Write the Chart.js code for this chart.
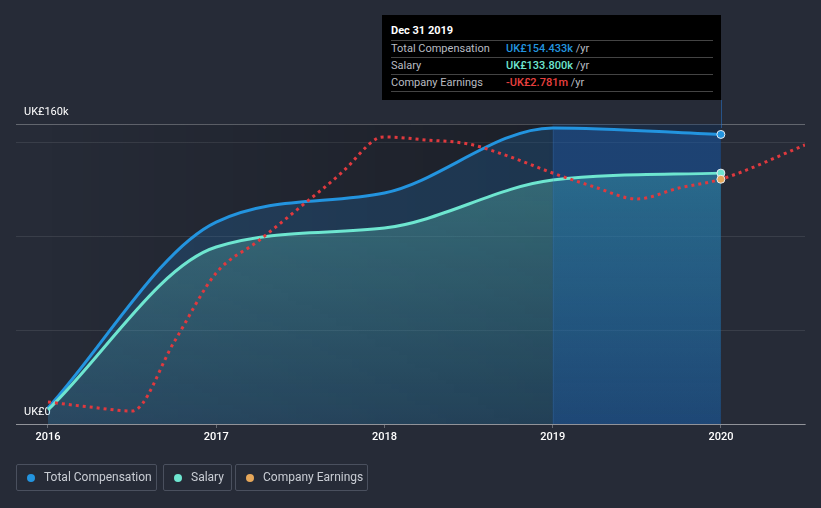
<!DOCTYPE html>
<html>
<head>
<meta charset="utf-8">
<script src="https://cdn.jsdelivr.net/npm/chart.js@4.4.1/dist/chart.umd.min.js"></script>
<style>
  html, body { margin: 0; padding: 0; background: #262b37; }
  #wrap { position: relative; width: 821px; height: 508px; overflow: hidden; font-family: Roboto, "Noto Sans", sans-serif; }
  canvas { position: absolute; left: 0; top: 0; }
  #tip { position: absolute; left: 382px; top: 15px; width: 339px; height: 85px; background: #000; box-sizing: border-box; padding: 0 8px 0 9px; }
  #tip .title { color: #fff; font-weight: bold; font-size: 11px; height: 25px; line-height: 32px; border-bottom: 1px solid #444; }
  #tip .row { height: 16px; line-height: 16px; font-size: 11px; border-bottom: 1px solid #444; position: relative; color: #b9bcc2; }
  #tip .row .v { position: absolute; left: 115px; top: 0; }
  #tip .row .v b { font-weight: 500; }
  #legend { position: absolute; top: 464px; left: 16px; height: 28px; }
  .lg { position: absolute; top: 0; height: 27px; border: 1px solid #4a505e; border-radius: 2px; box-sizing: border-box; font-size: 12px; color: #c9cdd4; line-height: 25px; }
  .lg i { position: absolute; left: 10px; top: 9px; width: 8px; height: 8px; border-radius: 50%; }
  .lg span { position: absolute; left: 27px; top: 0; white-space: nowrap; }
</style>
</head>
<body>
<div id="wrap">
  <canvas id="c" width="821" height="508"></canvas>
  <div id="tip">
    <div class="title">Dec 31 2019</div>
    <div class="row">Total Compensation<span class="v"><b style="color:#2394df">UK£154.433k</b> /yr</span></div>
    <div class="row">Salary<span class="v"><b style="color:#6ee6d0">UK£133.800k</b> /yr</span></div>
    <div class="row">Company Earnings<span class="v"><b style="color:#e8403f">-UK£2.781m</b> /yr</span></div>
  </div>
  <div id="legend">
    <div class="lg" style="left:0;width:141px"><i style="background:#2394df"></i><span>Total Compensation</span></div>
    <div class="lg" style="left:147px;width:69px"><i style="background:#6ee6d0"></i><span>Salary</span></div>
    <div class="lg" style="left:219px;width:133px"><i style="background:#e6a75a"></i><span>Company Earnings</span></div>
  </div>
</div>
<script>
// ---- data ----
const compYears = [2016, 2017, 2018, 2019, 2020];
const totalComp = [8500, 107700, 123200, 157900, 154433];
const salary = [7500, 94400, 104500, 130100, 133800];
const earnYears = [2016.0, 2016.25, 2016.5, 2016.75, 2017.0, 2017.25, 2017.5, 2017.75, 2017.95, 2018.0, 2018.25, 2018.5, 2018.75, 2019.0, 2019.25, 2019.5, 2019.75, 2020.0, 2020.5];
const earnings = [-8.35, -8.475, -8.575, -6.85, -5.125, -4.325, -3.475, -2.6, -1.775, -1.725, -1.8, -1.9, -2.225, -2.625, -2.975, -3.275, -3.0, -2.781, -1.925]; // UK£ m
const xTicks = [2016, 2017, 2018, 2019, 2020];
const yTicks = [0, 50000, 100000, 150000, 160000];
const yLabels = { 0: 'UK£0', 160000: 'UK£160k' };

const BLUE = '#2394df', TEAL = '#6ee6d0', RED = '#e0393e', ORANGE = '#e6a75a';
const hl = 2020;
const bandFrom = 2019, bandTo = 2020;

function pts(xs, ys) { return xs.map((x, i) => ({ x, y: ys[i] })); }
function ptRadius(xs) { return ctx => (xs[ctx.dataIndex] === hl ? 4 : 0); }

// fill patterns: normal colour left of the band, highlighted colour inside the band
const patCache = {};
function bandPattern(chart, key, normalStops, bandStops) {
  const a = chart.chartArea;
  if (!a || !chart.scales.x) return 'rgba(0,0,0,0)';
  if (patCache[key]) return patCache[key];
  const c = document.createElement('canvas');
  c.width = chart.width; c.height = chart.height;
  const g = c.getContext('2d');
  const x1 = chart.scales.x.getPixelForValue(bandFrom);
  const mk = stops => { const gr = g.createLinearGradient(0, a.top, 0, a.bottom); gr.addColorStop(0, stops[0]); gr.addColorStop(1, stops[1]); return gr; };
  g.fillStyle = mk(normalStops); g.fillRect(0, 0, x1, c.height);
  g.fillStyle = mk(bandStops); g.fillRect(x1, 0, c.width - x1, c.height);
  patCache[key] = chart.ctx.createPattern(c, 'no-repeat');
  return patCache[key];
}

const bgPlugin = {
  id: 'bgPlugin',
  beforeDatasetsDraw(chart) {
    const { ctx, chartArea: a, scales: { x } } = chart;
    const x0 = x.getPixelForValue(2016), x1 = x.getPixelForValue(bandFrom), x2 = x.getPixelForValue(bandTo);
    ctx.save();
    const g = ctx.createLinearGradient(x0, 0, x1, 0);
    g.addColorStop(0, 'rgba(0,0,0,0)');
    g.addColorStop(1, 'rgba(0,0,0,0.25)');
    ctx.fillStyle = g;
    ctx.fillRect(x0, a.top, x1 - x0, a.bottom - a.top);
    ctx.fillStyle = 'rgba(10,45,95,0.35)';
    ctx.fillRect(x1, a.top, x2 - x1, a.bottom - a.top);
    ctx.restore();
  },
  afterDatasetsDraw(chart) {
    const { ctx, chartArea: a, scales: { x } } = chart;
    const x1 = Math.round(x.getPixelForValue(bandFrom)) + 0.5, x2 = Math.round(x.getPixelForValue(bandTo)) + 0.5;
    ctx.save();
    ctx.lineWidth = 1;
    ctx.strokeStyle = 'rgba(70,130,190,0.18)';
    ctx.beginPath(); ctx.moveTo(x1, a.top + 6); ctx.lineTo(x1, a.bottom); ctx.stroke();
    ctx.strokeStyle = 'rgba(40,110,190,0.6)';
    ctx.beginPath(); ctx.moveTo(x2, 100); ctx.lineTo(x2, a.top + 4); ctx.stroke();
    ctx.restore();
  }
};

new Chart(document.getElementById('c'), {
  type: 'line',
  data: {
    datasets: [
      {
        label: 'Company Earnings', data: pts(earnYears, earnings), yAxisID: 'y2',
        borderColor: RED, borderWidth: 3, borderDash: [3, 4], fill: false,
        cubicInterpolationMode: 'monotone',
        pointRadius: ptRadius(earnYears), pointBackgroundColor: ORANGE, pointBorderColor: '#e8edf2', pointBorderWidth: 1
      },
      {
        label: 'Salary', data: pts(compYears, salary), yAxisID: 'y',
        borderColor: TEAL, borderWidth: 3, fill: 'origin',
        backgroundColor: ctx => bandPattern(ctx.chart, 'sal',
          ['rgba(110,230,210,0.34)', 'rgba(110,230,210,0.06)'],
          ['rgba(70,200,200,0.34)', 'rgba(70,200,200,0.04)']),
        cubicInterpolationMode: 'monotone',
        pointRadius: ptRadius(compYears), pointBackgroundColor: TEAL, pointBorderColor: '#e8edf2', pointBorderWidth: 1
      },
      {
        label: 'Total Compensation', data: pts(compYears, totalComp), yAxisID: 'y',
        borderColor: BLUE, borderWidth: 3, fill: 'origin',
        backgroundColor: ctx => bandPattern(ctx.chart, 'tot',
          ['rgba(33,140,230,0.2)', 'rgba(33,140,230,0.2)'],
          ['rgba(33,120,220,0.3)', 'rgba(33,120,220,0.3)']),
        cubicInterpolationMode: 'monotone',
        pointRadius: ptRadius(compYears), pointBackgroundColor: BLUE, pointBorderColor: '#e8edf2', pointBorderWidth: 1
      }
    ]
  },
  options: {
    responsive: false, animation: false, devicePixelRatio: 1,
    layout: { padding: { top: 124, left: 16, right: 16, bottom: 54 } },
    plugins: { legend: { display: false }, tooltip: { enabled: false } },
    events: [],
    scales: {
      x: {
        type: 'linear', min: 2015.81, max: 2020.5,
        afterBuildTicks: s => { s.ticks = xTicks.map(v => ({ value: v })); },
        afterFit: s => { s.height = 30; },
        ticks: { color: '#ffffff', font: { family: 'Roboto', size: 11, weight: '500' }, padding: 3, callback: v => String(v), maxRotation: 0 },
        grid: { drawOnChartArea: false, drawTicks: true, tickLength: 4, color: 'rgba(255,255,255,0.3)' },
        border: { display: true, color: 'rgba(255,255,255,0.3)' }
      },
      y: {
        min: 0, max: 160000,
        afterBuildTicks: s => { s.ticks = yTicks.map(v => ({ value: v })); },
        afterFit: s => { s.width = 0; },
        ticks: { mirror: true, padding: 8, labelOffset: -12, color: '#ffffff', font: { family: 'Roboto', size: 11 }, callback: v => yLabels[v] || '' },
        grid: { drawTicks: false, color: ctx => (ctx.tick && (ctx.tick.value === 160000 || ctx.tick.value === 0) ? 'rgba(255,255,255,0.28)' : 'rgba(255,255,255,0.09)') },
        border: { display: false }
      },
      y2: { display: false, min: -8.9, max: -1.4 }
    }
  },
  plugins: [bgPlugin]
});
</script>
</body>
</html>
